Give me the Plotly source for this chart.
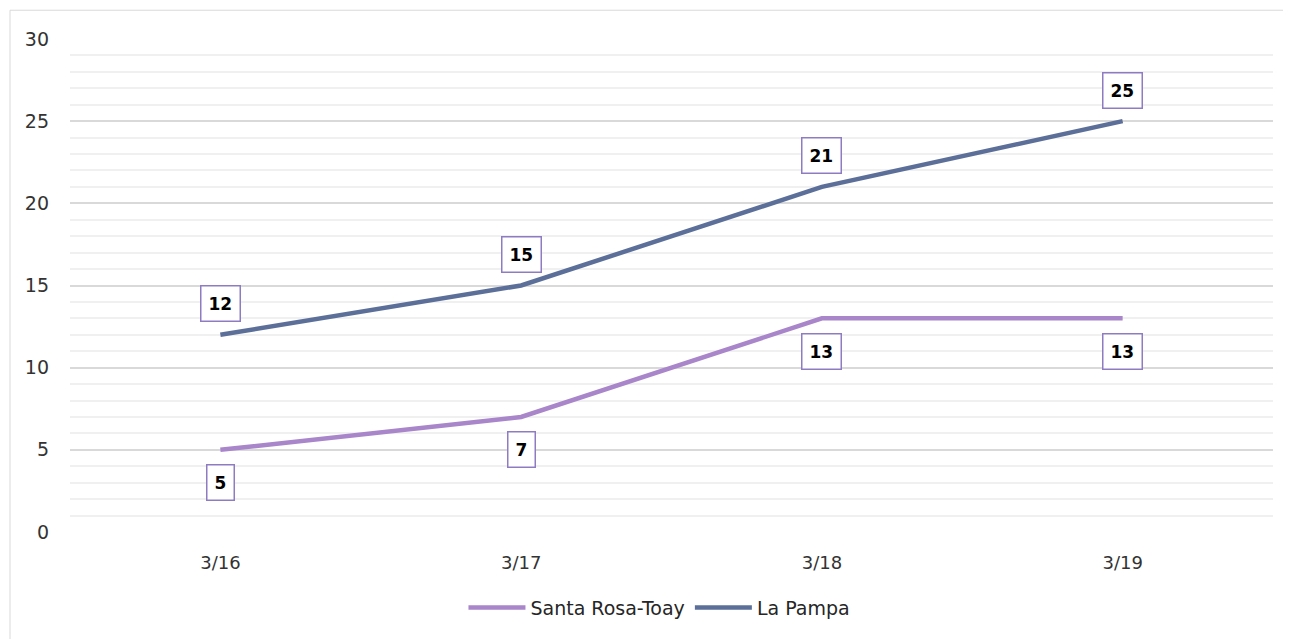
import plotly.graph_objects as go

# Data
fechas = ['3/16', '3/17', '3/18', '3/19']
santa_rosa = [5, 7, 13, 13]
la_pampa = [12, 15, 21, 25]

color_sr = '#A985C9'
color_lp = '#5B6F99'
box_color = '#8E7CC3'
font_fam = 'DejaVu Sans, sans-serif'

fig = go.Figure()

fig.add_trace(go.Scatter(
    x=fechas, y=santa_rosa, mode='lines', name='Santa Rosa-Toay',
    line=dict(color=color_sr, width=4.5),
))
fig.add_trace(go.Scatter(
    x=fechas, y=la_pampa, mode='lines', name='La Pampa',
    line=dict(color=color_lp, width=4.5),
))

# data labels
for f, v in zip(fechas, santa_rosa):
    fig.add_annotation(x=f, y=v, xref='x', yref='y', text='<b>%d</b>' % v,
                       showarrow=False, yshift=-33,
                       font=dict(size=17, color='black', family=font_fam),
                       bgcolor='white', bordercolor=box_color, borderwidth=1.5,
                       borderpad=7)
for f, v in zip(fechas, la_pampa):
    fig.add_annotation(x=f, y=v, xref='x', yref='y', text='<b>%d</b>' % v,
                       showarrow=False, yshift=31,
                       font=dict(size=17, color='black', family=font_fam),
                       bgcolor='white', bordercolor=box_color, borderwidth=1.5,
                       borderpad=7)

# chart border
fig.add_shape(type='rect', xref='paper', yref='paper',
              x0=(2 - 62) / 1203, x1=(1300 - 62) / 1203,
              y0=-(645 - 528) / 497, y1=1 + (31 - 2) / 497,
              line=dict(color='#D9D9D9', width=1), layer='below')

fig.update_layout(
    width=1283, height=631,
    margin=dict(l=62, r=18, t=31, b=103),
    plot_bgcolor='white', paper_bgcolor='white',
    font=dict(family=font_fam, size=15, color='#333333'),
    showlegend=True,
    legend=dict(orientation='h', x=0.49, xanchor='center', y=-0.115, yanchor='top',
                font=dict(size=19, color='#262626'), itemwidth=57, tracegroupgap=0),
    xaxis=dict(range=[-0.5, 3.5], showgrid=False, zeroline=False, showline=False,
               ticks='', ticklabelstandoff=18,
               tickfont=dict(size=18, color='#333333')),
    yaxis=dict(range=[0, 30], dtick=5, showgrid=True, gridcolor='#D9D9D9', gridwidth=1.5,
               zeroline=False, showline=False, ticks='', ticklabelstandoff=20,
               tickfont=dict(size=19, color='#333333'),
               minor=dict(dtick=1, showgrid=True, gridcolor='#F0F0F0', gridwidth=1.5)),
)

fig.write_html('out.html')
